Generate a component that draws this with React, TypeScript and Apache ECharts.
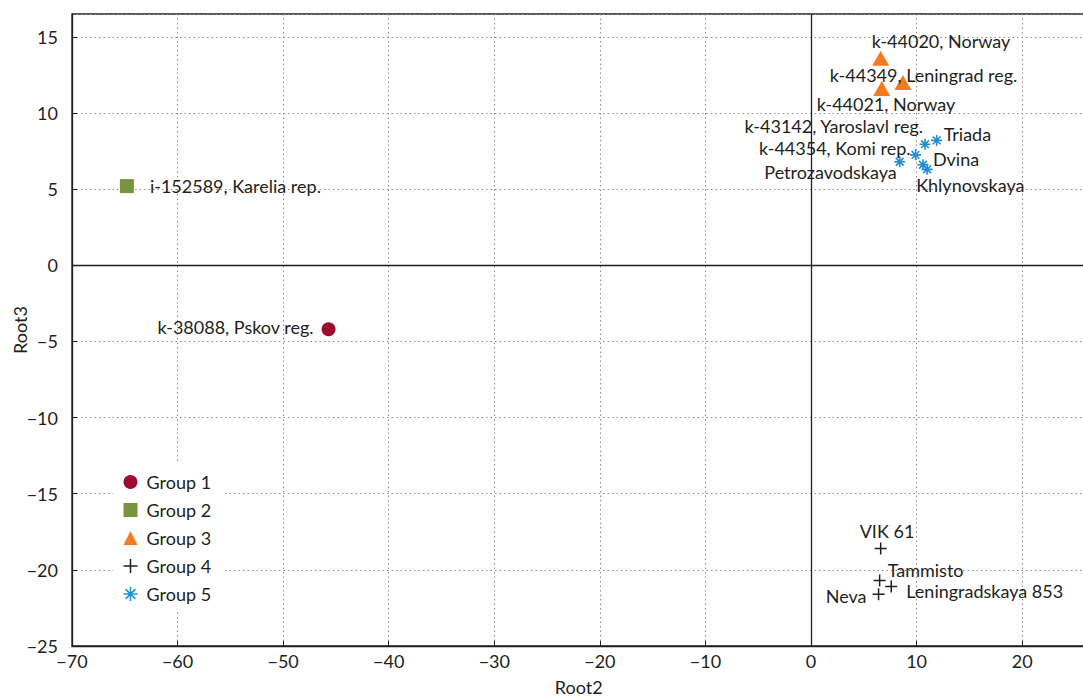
import React, { useEffect, useRef } from "react";
import * as echarts from "echarts";

// ---- Data (Root2, Root3) ----
const group1Names = ["k-38088, Pskov reg."];
const group1Values: [number, number][] = [[-45.7, -4.2]];

const group2Names = ["i-152589, Karelia rep."];
const group2Values: [number, number][] = [[-64.8, 5.2]];

const group3Names = ["k-44020, Norway", "k-44349, Leningrad reg.", "k-44021, Norway"];
const group3Values: [number, number][] = [
  [6.6, 13.6],
  [8.7, 12.0],
  [6.7, 11.6],
];

const group4Names = ["VIK 61", "Tammisto", "Leningradskaya 853", "Neva"];
const group4Values: [number, number][] = [
  [6.6, -18.6],
  [6.5, -20.7],
  [7.6, -21.1],
  [6.4, -21.6],
];

const group5Names = [
  "Triada",
  "k-43142, Yaroslavl reg.",
  "k-44354, Komi rep.",
  "Petrozavodskaya",
  "Dvina",
  "Khlynovskaya",
];
const group5Values: [number, number][] = [
  [11.9, 8.2],
  [10.8, 7.95],
  [9.9, 7.25],
  [8.4, 6.8],
  [10.6, 6.6],
  [11.0, 6.3],
];

const legendNames = ["Group 1", "Group 2", "Group 3", "Group 4", "Group 5"];

// ---- Label placement (pixel offsets from the marker centre) ----
const labelPlacement: Record<string, { align: "left" | "right"; dx: number; dy: number }> = {
  "k-38088, Pskov reg.": { align: "right", dx: -15, dy: -2 },
  "i-152589, Karelia rep.": { align: "left", dx: 23, dy: 0 },
  "k-44020, Norway": { align: "left", dx: -9, dy: -17 },
  "k-44349, Leningrad reg.": { align: "left", dx: -73, dy: -8 },
  "k-44021, Norway": { align: "left", dx: -65, dy: 15 },
  "VIK 61": { align: "left", dx: -21, dy: -18 },
  Tammisto: { align: "left", dx: 8, dy: -11 },
  "Leningradskaya 853": { align: "left", dx: 15, dy: 4 },
  Neva: { align: "right", dx: -12, dy: 2 },
  Triada: { align: "left", dx: 7, dy: -6 },
  "k-43142, Yaroslavl reg.": { align: "right", dx: -2, dy: -18 },
  "k-44354, Komi rep.": { align: "right", dx: -5, dy: -7 },
  Petrozavodskaya: { align: "right", dx: -3, dy: 10 },
  Dvina: { align: "left", dx: 10, dy: -6 },
  Khlynovskaya: { align: "left", dx: -11, dy: 16 },
};

const FONT = "Lato, 'Liberation Sans', sans-serif";
const FS = 18;
const TEXT = "#231f20";
const PLUS = "path://M0,-1L0,1M-1,0L1,0";
const STAR = "path://M0,-1L0,1M-1,0L1,0M-0.7,-0.7L0.7,0.7M-0.7,0.7L0.7,-0.7";

const fmt = (v: number) => String(v).replace("-", "\u2212");

function buildData(names: string[], values: [number, number][]) {
  return values.map((v, i) => {
    const p = labelPlacement[names[i]];
    return {
      name: names[i],
      value: v,
      label: {
        show: true,
        formatter: names[i],
        position: "inside",
        align: p.align,
        verticalAlign: "middle",
        offset: [p.dx, p.dy],
        color: TEXT,
        fontSize: FS,
        fontFamily: FONT,
      },
    };
  });
}

export default function App() {
  const ref = useRef<HTMLDivElement>(null);

  useEffect(() => {
    document.body.style.margin = "0";
    if (!ref.current) return;
    const chart = echarts.init(ref.current, undefined, { renderer: "svg" });

    const splitLine = {
      show: true,
      lineStyle: { color: "#8c8c8c", type: [1.5, 3], width: 1 },
    };

    chart.setOption({
      animation: false,
      backgroundColor: "#ffffff",
      textStyle: { fontFamily: FONT },
      grid: {
        left: 72,
        top: 14,
        right: -2.5,
        bottom: 51,
        containLabel: false,
        outerBoundsMode: "none",
        show: true,
        borderColor: TEXT,
        borderWidth: 1.3,
      },
      xAxis: {
        type: "value",
        min: -70,
        max: 26,
        interval: 10,
        name: "Root2",
        nameLocation: "middle",
        nameGap: 32,
        nameMoveOverlap: false,
        nameTextStyle: { color: TEXT, fontSize: FS, fontFamily: FONT },
        axisLine: { show: true, onZero: false, lineStyle: { color: TEXT, width: 1.3 } },
        axisTick: { show: true, inside: true, length: 5, lineStyle: { color: TEXT } },
        axisLabel: {
          color: TEXT,
          fontSize: FS,
          fontFamily: FONT,
          margin: 6,
          showMaxLabel: false,
          formatter: (v: number) => (Math.abs(v % 10) < 1e-9 ? fmt(v) : ""),
        },
        splitLine,
      },
      yAxis: {
        type: "value",
        min: -25,
        max: 16.5,
        interval: 5,
        name: "Root3",
        nameLocation: "middle",
        nameGap: 43,
        nameMoveOverlap: false,
        nameTextStyle: { color: TEXT, fontSize: FS, fontFamily: FONT },
        axisLine: { show: true, onZero: false, lineStyle: { color: TEXT, width: 1.3 } },
        axisTick: { show: true, inside: true, length: 5, lineStyle: { color: TEXT } },
        axisLabel: {
          color: TEXT,
          fontSize: FS,
          fontFamily: FONT,
          margin: 14,
          showMaxLabel: false,
          formatter: (v: number) => (Math.abs(v % 5) < 1e-9 ? fmt(v) : ""),
        },
        splitLine,
      },
      legend: {
        orient: "vertical",
        left: 113,
        top: 464,
        itemWidth: 14,
        itemHeight: 14,
        itemGap: 8,
        padding: [8, 12, 8, 8],
        backgroundColor: "#ffffff",
        textStyle: {
          color: TEXT,
          fontSize: FS,
          fontFamily: FONT,
          lineHeight: 20,
          padding: [0, 0, 0, 4],
        },
        data: [
          { name: "Group 1" },
          { name: "Group 2" },
          { name: "Group 3" },
          { name: "Group 4", itemStyle: { color: "none", borderColor: TEXT, borderWidth: 1.5 } },
          { name: "Group 5", itemStyle: { color: "none", borderColor: "#1e90d6", borderWidth: 1.5 } },
        ],
      },
      series: [
        {
          name: legendNames[0],
          type: "scatter",
          symbol: "circle",
          symbolSize: 14,
          itemStyle: { color: "#9e0a30", opacity: 1 },
          data: buildData(group1Names, group1Values),
          markLine: {
            silent: true,
            symbol: ["none", "none"],
            label: { show: false },
            lineStyle: { color: TEXT, type: "solid", width: 1.3 },
            data: [{ xAxis: 0 }, { yAxis: 0 }],
          },
          z: 3,
        },
        {
          name: legendNames[1],
          type: "scatter",
          symbol: "rect",
          symbolSize: 14,
          itemStyle: { color: "#77953c", opacity: 1 },
          data: buildData(group2Names, group2Values),
          z: 3,
        },
        {
          name: legendNames[2],
          type: "scatter",
          symbol: "triangle",
          symbolSize: [17, 15],
          itemStyle: { color: "#f47b20", opacity: 1 },
          data: buildData(group3Names, group3Values),
          z: 3,
        },
        {
          name: legendNames[3],
          type: "scatter",
          symbol: PLUS,
          symbolSize: 12,
          itemStyle: { color: "none", borderColor: TEXT, borderWidth: 1.5, opacity: 1 },
          data: buildData(group4Names, group4Values),
          z: 3,
        },
        {
          name: legendNames[4],
          type: "scatter",
          symbol: STAR,
          symbolSize: 11,
          itemStyle: { color: "none", borderColor: "#1e90d6", borderWidth: 1.6, opacity: 1 },
          data: buildData(group5Names, group5Values),
          z: 3,
        },
      ],
    });

    return () => chart.dispose();
  }, []);

  return <div ref={ref} style={{ width: 1083, height: 697 }} />;
}
